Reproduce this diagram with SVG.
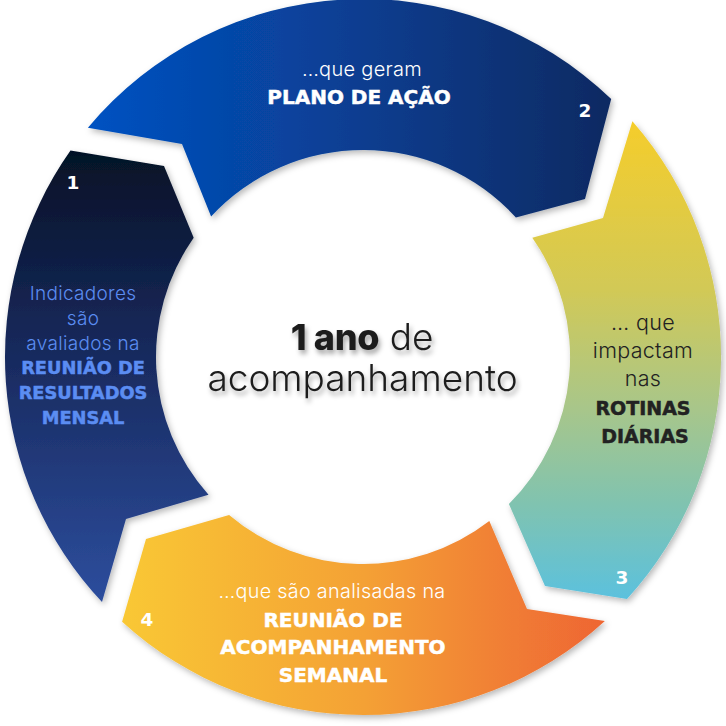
<svg xmlns="http://www.w3.org/2000/svg" width="726" height="726" viewBox="0 0 726 726">
<defs>
<linearGradient id="g1" gradientUnits="userSpaceOnUse" x1="0" y1="150" x2="0" y2="605"><stop offset="0" stop-color="#051126"/><stop offset="0.5" stop-color="#1a2d64"/><stop offset="1" stop-color="#2d4e9e"/></linearGradient>
<linearGradient id="g2" gradientUnits="userSpaceOnUse" x1="88" y1="0" x2="612" y2="0"><stop offset="0" stop-color="#0352c2"/><stop offset="1" stop-color="#0e2a62"/></linearGradient>
<linearGradient id="g3" gradientUnits="userSpaceOnUse" x1="0" y1="121" x2="0" y2="600"><stop offset="0" stop-color="#f5cd2b"/><stop offset="0.35" stop-color="#d2c956"/><stop offset="0.6" stop-color="#a8c68a"/><stop offset="0.8" stop-color="#80c3b0"/><stop offset="1" stop-color="#5bc1de"/></linearGradient>
<linearGradient id="g4" gradientUnits="userSpaceOnUse" x1="121" y1="0" x2="606" y2="0"><stop offset="0" stop-color="#f9c834"/><stop offset="0.5" stop-color="#f4a136"/><stop offset="1" stop-color="#ee6533"/></linearGradient>
<filter id="sh" x="-10%" y="-10%" width="120%" height="120%"><feDropShadow dx="2" dy="3" stdDeviation="3" flood-color="#000" flood-opacity="0.28"/></filter>
<filter id="tsh" x="-10%" y="-30%" width="120%" height="160%"><feDropShadow dx="2" dy="4" stdDeviation="2.5" flood-color="#000" flood-opacity="0.35"/></filter>
</defs>
<style>
.lt{font-family:Inter,"Open Sans","Noto Sans",sans-serif;font-weight:300;letter-spacing:0.3px;text-anchor:middle}
.bd{font-family:"DejaVu Sans","Noto Sans",sans-serif;font-weight:700;text-anchor:middle;stroke-width:0.5px}
.num{font-family:"DejaVu Sans","Noto Sans",sans-serif;font-weight:700;font-size:18.5px;fill:#fff;text-anchor:middle}
.w{fill:#fff}
.bl{fill:#5b8df2}
.dk{fill:#222}
.bd.w{stroke:#fff}
.bd.bl{stroke:#5b8df2}
.bd.dk{stroke:#222}
</style>
<rect width="726" height="726" fill="#fff"/>
<g id="seg1">
<path filter="url(#sh)" fill="url(#g1)" d="M102,602.1 L126,519 L208.5,494.7 A207,207 0 0 1 193.7,237.8 L164,166 L70.5,150.6 A358,358 0 0 0 102,602.1 Z"/>
<text class="num" x="73" y="189">1</text>
<text class="lt bl" font-size="19" x="83" y="300">Indicadores</text>
<text class="lt bl" font-size="19" x="83" y="325">são</text>
<text class="lt bl" font-size="19" x="83" y="350">avaliados na</text>
<text class="bd bl" font-size="17.8" x="83" y="374">REUNIÃO DE</text>
<text class="bd bl" font-size="17.8" x="83" y="399">RESULTADOS</text>
<text class="bd bl" font-size="17.8" x="83" y="424">MENSAL</text>
</g>
<g id="seg2">
<path filter="url(#sh)" fill="url(#g2)" d="M87.9,127.8 L182,144 L211.1,216.4 A207,207 0 0 1 515.9,217.4 L585,199 L611.2,99 A358,358 0 0 0 87.9,127.8 Z"/>
<text class="num" x="585" y="117">2</text>
<text class="lt w" font-size="20" x="362" y="76">…que geram</text>
<text class="bd w" font-size="20" x="359" y="103.5">PLANO DE AÇÃO</text>
</g>
<g id="seg3">
<path filter="url(#sh)" fill="url(#g3)" d="M632.4,121.2 L603,218 L532.3,237.8 A207,207 0 0 1 508.9,503.9 L545,586 L627,598.9 A358,358 0 0 0 632.4,121.2 Z"/>
<text class="num" x="622" y="584">3</text>
<text class="lt dk" font-size="21.5" x="643" y="330">… que</text>
<text class="lt dk" font-size="21.5" x="643" y="358">impactam</text>
<text class="lt dk" font-size="21.5" x="643" y="386">nas</text>
<text class="bd dk" font-size="19" x="643" y="415">ROTINAS</text>
<text class="bd dk" font-size="19" x="645" y="443">DIÁRIAS</text>
</g>
<g id="seg4">
<path filter="url(#sh)" fill="url(#g4)" d="M604.9,621 L527,609 L489.3,521 A207,207 0 0 1 229.1,514.9 L146,539 L122.1,621.8 A358,358 0 0 0 604.9,621 Z"/>
<text class="num" x="147" y="626">4</text>
<text class="lt w" font-size="19.8" x="332" y="598">…que são analisadas na</text>
<text class="bd w" font-size="20" x="333" y="627">REUNIÃO DE</text>
<text class="bd w" font-size="20" x="333" y="654">ACOMPANHAMENTO</text>
<text class="bd w" font-size="20" x="333" y="682">SEMANAL</text>
</g>
<g id="center" filter="url(#tsh)" fill="#1c1c1c">
<text x="362" y="350" text-anchor="middle" font-family="Inter, 'Open Sans', sans-serif"><tspan font-weight="800" font-size="36" letter-spacing="-0.3">1 ano</tspan><tspan font-weight="300" font-size="37"> de</tspan></text>
<text x="362.5" y="391" text-anchor="middle" font-family="Inter, 'Open Sans', sans-serif" font-weight="300" font-size="37">acompanhamento</text>
</g>
</svg>
